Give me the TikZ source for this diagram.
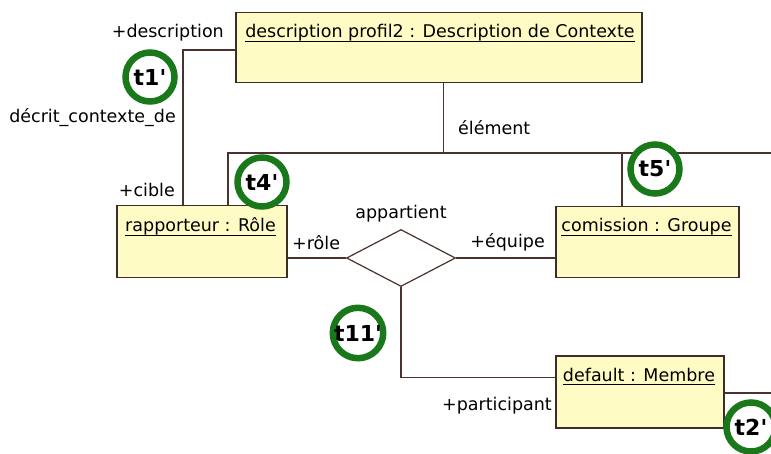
\documentclass[tikz,border=0pt]{standalone}
\usepackage{xcolor}
\usepackage{fontspec}
\setmainfont{DejaVu Sans}
\usepackage{tikz}
\usetikzlibrary{shapes,positioning,calc}
\definecolor{boxfill}{RGB}{255,251,196}
\definecolor{boxline}{RGB}{60,45,40}
\definecolor{linkline}{RGB}{75,50,45}
\definecolor{markgreen}{RGB}{25,120,25}
\newcommand{\objname}[1]{\setbox0=\hbox{#1}\rlap{\rule[-4pt]{\wd0}{1.2pt}}\box0}

\begin{document}
\begin{tikzpicture}[x=1pt, y=-1pt,
        object/.style={draw=boxline, line width=1.5pt, fill=boxfill, rectangle, anchor=north west, inner sep=0pt},
        title/.style={font=\fontsize{17.5}{20}\selectfont, inner sep=0pt, anchor=base},
        role/.style={font=\fontsize{17.5}{20}\selectfont, inner sep=0pt},
        link/.style={draw=linkline, line width=1.4pt},
        relation/.style={draw=linkline, line width=1.2pt, diamond, fill=white, minimum width=109pt, minimum height=57pt, inner sep=0pt},
        tmark/.style={circle, draw=markgreen, line width=6.5pt, fill=white, minimum size=49pt, inner sep=0pt, font=\fontsize{22}{24}\selectfont\bfseries}
    ]
        \clip (0,0) rectangle (771,454);
        \fill[white] (0,0) rectangle (771,454);

        \node [object, minimum width=406pt, minimum height=70pt] (desc) at (235,12) {};
        \node [object, minimum width=170pt, minimum height=72pt] (rap) at (116,205) {};
        \node [object, minimum width=183pt, minimum height=71pt] (com) at (555,206) {};
        \node [object, minimum width=168pt, minimum height=72pt] (def) at (555,355) {};
        \node [relation] (rel) at (401,258) {};

        \node [title] (desctitle) at (440,38) {\objname{description profil2 : Description de Contexte}};
        \node [title] (raptitle) at (200.5,232) {\objname{rapporteur : Rôle}};
        \node [title] (comtitle) at (646.5,232) {\objname{comission : Groupe}};
        \node [title] (deftitle) at (639,381) {\objname{default : Membre}};

        \coordinate (elemend) at (771,153);
        \coordinate (elemtop) at ([xshift=5pt]desc.south);
        \coordinate (comin) at ([xshift=67pt]com.north west);
        \coordinate (defin) at ([yshift=14pt]def.west);
        \coordinate (defout) at (771,393);

        \draw [link] ([yshift=-38pt]desc.north west) -| ([xshift=67pt]rap.north west);
        \draw [link] ([xshift=112pt]rap.north west) |- (elemend);
        \draw [link] (elemtop) -- (elemtop |- elemend);
        \draw [link] (comin) -- (comin |- elemend);
        \draw [link] (rap.east |- rel.west) -- (rel.west);
        \draw [link] (rel.east) -- (com.west |- rel.east);
        \draw [link] (rel.south) |- (defin);
        \draw [link] (def.east |- defout) -- (defout); % lien vers la droite

        \node [role, anchor=base east] (descrole) at (224,38) {+description};
        \node [role, anchor=base east] (assocname) at (176,123) {décrit\_contexte\_de};
        \node [role, anchor=base east] (ciblerole) at (175,197) {+cible};
        \node [role, anchor=base west] (elemrole) at (458,135) {élément};
        \node [role, above=7pt of rel.north] (relname) {appartient};
        \node [role, anchor=base west] (rolerole) at (292,250) {+rôle};
        \node [role, anchor=base east] (equiperole) at (545,248) {+équipe};
        \node [role, anchor=base east] (partrole) at (552,410) {+participant};

        \node [tmark] (t1) at (150,77) {t1\textquotesingle};
        \node [tmark] (t4) at (262,182) {t4\textquotesingle};
        \node [tmark] (t5) at (655,169) {t5\textquotesingle};
        \node [tmark] (t11) at (358,333) {t11\textquotesingle};
        \node [tmark] (t2) at (751,427) {t2\textquotesingle};

    \end{tikzpicture}
\end{document}
